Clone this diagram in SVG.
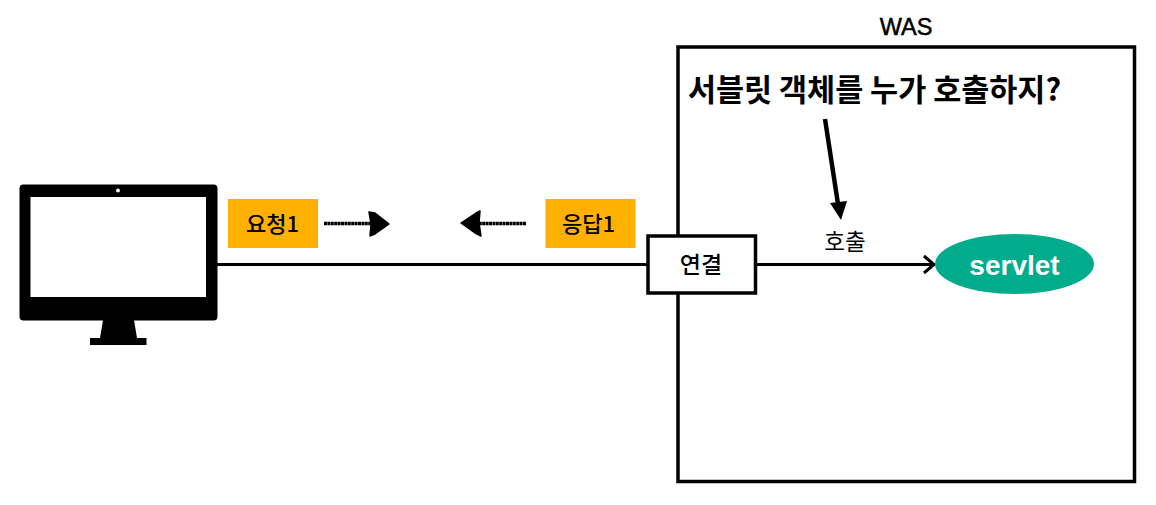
<svg xmlns="http://www.w3.org/2000/svg" width="1156" height="505" viewBox="0 0 1156 505">
<style>
text{font-family:"Liberation Sans","Noto Sans CJK KR",sans-serif;fill:#000;text-anchor:middle}
.k{font-family:"Noto Sans CJK KR","Liberation Sans",sans-serif}
.box{fill:#fff;stroke:#000;stroke-width:3.5}
.tag{fill:#ffb000}
.line{fill:none;stroke:#000;stroke-width:3}
.sk{fill:none;stroke:#000;stroke-width:3.500;stroke-dasharray:3 .4}
.head{fill:#000;stroke:#000;stroke-width:1.500;stroke-linejoin:round}
</style>
<rect width="1156" height="505" fill="#fff"/>
<g id="was">
<rect class="box" x="678" y="47" width="456.500" height="434.500"/>
<text x="906" y="35" font-size="23.500" stroke="#000" stroke-width=".5">WAS</text>
</g>
<g id="question">
<text class="k" x="874.500" y="101" font-size="30.500" font-weight="700">서블릿 객체를 누가 호출하지?</text>
</g>
<g id="client">
<rect x="19.500" y="184.500" width="198" height="136" rx="4" fill="#000"/>
<rect x="30.500" y="197" width="175.500" height="100" fill="#fff"/>
<circle cx="118" cy="190.500" r="1.900" fill="#fff"/>
<path d="M103 320H134L137 338H146.500V345H90V338H100Z" fill="#000"/>
</g>
<g id="connectors">
<path class="line" d="M217 264.500H648"/>
<path class="line" d="M755 264.500H933"/>
<path class="line" d="M924 256L934 264.500L924 273"/>
<path d="M825 119L838 204" fill="none" stroke="#000" stroke-width="4.500"/>
<path d="M830 203L847 201L841 220Z" fill="#000"/>
<path class="sk" d="M324 223.500H372"/>
<path class="head" d="M369 212L375 213L389 224L375 234L370 236L371 224Z"/>
<path class="sk" d="M526 223.500H478"/>
<path class="head" d="M480 211L476 213L461 223L475 233L481 236L479 223Z"/>
</g>
<g id="request">
<rect class="tag" x="228" y="199" width="90" height="49"/>
<text class="k" x="272.500" y="232" font-size="22" font-weight="500">요청1</text>
</g>
<g id="response">
<rect class="tag" x="545.500" y="199" width="90" height="49"/>
<text class="k" x="588.500" y="232" font-size="22" font-weight="500">응답1</text>
</g>
<g id="connection">
<rect class="box" x="648" y="236" width="107.500" height="57"/>
<text class="k" x="701" y="273" font-size="23" font-weight="500">연결</text>
</g>
<g id="call">
<text class="k" x="845" y="250" font-size="22.500">호출</text>
</g>
<g id="servlet">
<ellipse cx="1014.500" cy="264" rx="79.500" ry="30" fill="#00ac8c"/>
<text x="1014.500" y="275" font-size="28" font-weight="700" style="fill:#fff">servlet</text>
</g>
</svg>
